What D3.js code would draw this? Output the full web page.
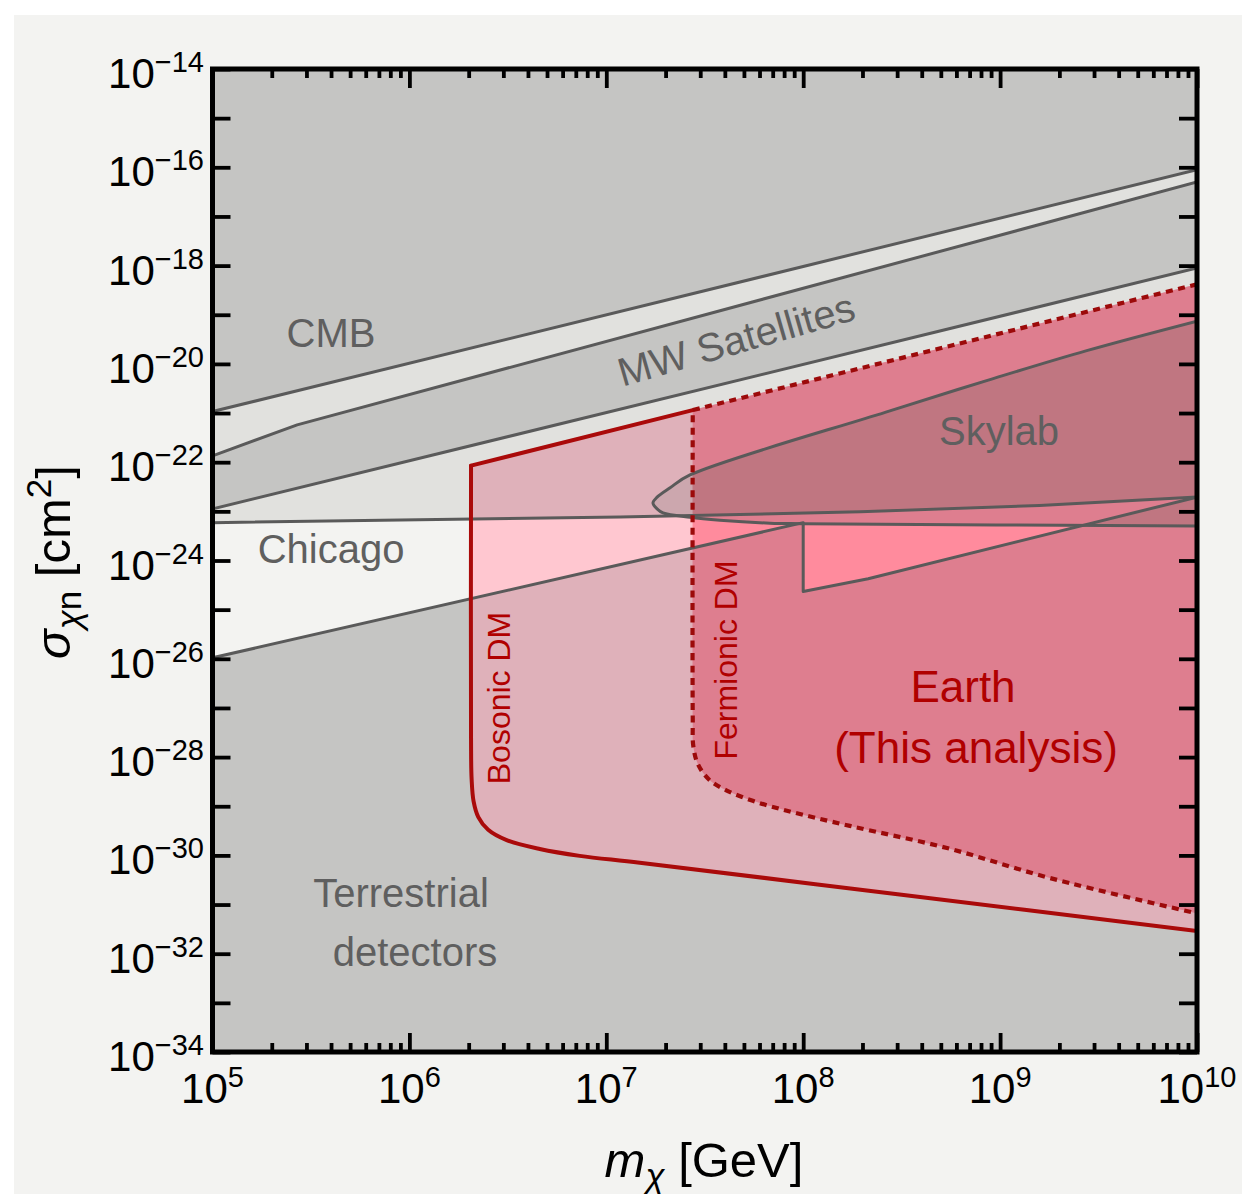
<!DOCTYPE html>
<html>
<head>
<meta charset="utf-8">
<script src="https://cdn.jsdelivr.net/npm/d3@7"></script>
<style>
  body { margin: 0; background: #ffffff; }
  svg { display: block; }
  text { font-family: "Liberation Sans", Arial, Helvetica, sans-serif; }
</style>
</head>
<body>
<svg id="chart" width="1242" height="1194"></svg>
<script>
// ---- axis ranges and ticks ----
const massDomain = [1e5, 1e10];          // m_chi [GeV]
const sigmaDomain = [1e-34, 1e-14];      // sigma_chi-n [cm^2]
const massTickExps = [5, 6, 7, 8, 9, 10];
const sigmaTickExps = d3.range(-34, -13, 1);
const sigmaLabelExps = [-14, -16, -18, -20, -22, -24, -26, -28, -30, -32, -34];

// ---- constraint boundaries, as [log10(m/GeV), log10(sigma/cm^2)] ----
const cmbEdge = [[5, -20.97], [10, -16.05]];
const mwUpperEdge = [[5, -21.87], [5.43, -21.24], [10, -16.30]];
const mwLowerEdge = [[5, -22.95], [10, -18.05]];
const chicagoUpper = [[5, -23.23], [7.07, -23.115], [8.29, -23.01], [9.2, -22.88], [10, -22.71]];
const chicagoLower = [[5, -25.98], [8.0, -23.23], [8.0, -24.63], [8.33, -24.37], [10, -22.71]];
const skylabEdge = [
  [10, -19.13], [9.44, -19.73], [8.94, -20.33], [8.42, -20.98], [7.425, -22.26],
  [7.324, -22.52], [7.258, -22.71], [7.237, -22.83], [7.258, -22.95], [7.288, -23.03],
  [7.425, -23.12], [7.577, -23.18], [7.831, -23.24], [8.0, -23.25], [10, -23.30]
];
// Earth overburden bounds (this analysis)
const earthTop = [[10, -18.38], [7.439, -20.94], [6.313, -22.07]];
const bosonicEdge = [
  [6.313, -22.07], [6.313, -27.6], [6.316, -28.45], [6.326, -28.9], [6.35, -29.22],
  [6.40, -29.48], [6.494, -29.69], [6.662, -29.87], [6.865, -30.01], [7.17, -30.15],
  [8.5, -30.80], [10, -31.54]
];
const fermionicEdge = [
  [7.439, -20.94], [7.439, -27.2], [7.442, -27.78], [7.466, -28.15], [7.525, -28.47],
  [7.612, -28.68], [7.744, -28.89], [7.917, -29.09], [8.237, -29.40], [8.73, -29.85],
  [9.253, -30.46], [10, -31.18]
];

// ---- layout ----
const plot = { left: 212.5, right: 1197, top: 69, bottom: 1052 };
const svg = d3.select("#chart");

const x = d3.scaleLog().domain(massDomain).range([plot.left, plot.right]);
const y = d3.scaleLog().domain(sigmaDomain).range([plot.bottom, plot.top]);
const P = d => [x(Math.pow(10, d[0])), y(Math.pow(10, d[1]))];

const straight = d3.line().x(d => P(d)[0]).y(d => P(d)[1]);
const smooth = d3.line().x(d => P(d)[0]).y(d => P(d)[1]).curve(d3.curveCatmullRom.alpha(0.5));

// paper background
svg.append("rect").attr("x", 14).attr("y", 15).attr("width", 1228).attr("height", 1179).attr("fill", "#f3f3f1");

const defs = svg.append("defs");
defs.append("clipPath").attr("id", "plotClip")
  .append("rect").attr("x", plot.left).attr("y", plot.top)
  .attr("width", plot.right - plot.left).attr("height", plot.bottom - plot.top);

// closed outlines
const bosonicD = smooth(bosonicEdge) + "L" + earthTop.map(d => P(d).join(",")).join("L") + "Z";
const fermionicD = smooth(fermionicEdge) + "L" + earthTop.slice(0, 2).map(d => P(d).join(",")).join("L") + "Z";
const chicagoD = straight(chicagoUpper.concat(chicagoLower.slice().reverse())) + "Z";
const skylabD = smooth(skylabEdge) + "Z";

defs.append("clipPath").attr("id", "bosClip").append("path").attr("d", bosonicD);
defs.append("clipPath").attr("id", "fermClip").append("path").attr("d", fermionicD);
defs.append("clipPath").attr("id", "skyClip").append("path").attr("d", skylabD);

const g = svg.append("g").attr("clip-path", "url(#plotClip)");

// excluded background
g.append("rect").attr("x", plot.left).attr("y", plot.top)
  .attr("width", plot.right - plot.left).attr("height", plot.bottom - plot.top)
  .attr("fill", "#c5c5c3");

// open windows between the bounds
g.append("path").attr("d", straight(cmbEdge.concat(mwUpperEdge.slice().reverse())) + "Z").attr("fill", "#e1e1de");
g.append("path").attr("d", straight(mwLowerEdge.concat(chicagoUpper.slice().reverse())) + "Z").attr("fill", "#e1e1de");
g.append("path").attr("d", chicagoD).attr("fill", "#f3f3f1");

// Earth regions
g.append("path").attr("d", bosonicD).attr("fill", "#dfb1ba");
g.append("path").attr("d", fermionicD).attr("fill", "#de7e8f");

// Chicago overlapping the Earth regions
g.append("path").attr("d", chicagoD).attr("fill", "#ffc7d0").attr("clip-path", "url(#bosClip)");
g.append("path").attr("d", chicagoD).attr("fill", "#ff8b9d").attr("clip-path", "url(#fermClip)");

// Skylab overlapping the Earth regions
g.append("path").attr("d", skylabD).attr("fill", "#cca7ae").attr("clip-path", "url(#bosClip)");
g.append("path").attr("d", skylabD).attr("fill", "#c07681").attr("clip-path", "url(#fermClip)");

// Skylab and Chicago together
const both = g.append("g").attr("clip-path", "url(#skyClip)");
both.append("path").attr("d", chicagoD).attr("fill", "#dfb1ba").attr("clip-path", "url(#bosClip)");
both.append("path").attr("d", chicagoD).attr("fill", "#de7e8f").attr("clip-path", "url(#fermClip)");

// gray boundary lines
const grayLine = "#5a5a5a";
[cmbEdge, mwUpperEdge, mwLowerEdge, chicagoUpper, chicagoLower].forEach(pts => {
  g.append("path").attr("d", straight(pts)).attr("fill", "none")
    .attr("stroke", grayLine).attr("stroke-width", 3).attr("stroke-linejoin", "round");
});
g.append("path").attr("d", smooth(skylabEdge)).attr("fill", "none")
  .attr("stroke", grayLine).attr("stroke-width", 3);

// Earth bounds: bosonic solid, fermionic dashed
g.append("path").attr("d", straight(earthTop.slice(1))).attr("fill", "none")
  .attr("stroke", "#aa0a0a").attr("stroke-width", 4).attr("stroke-linecap", "round");
g.append("path").attr("d", smooth(bosonicEdge)).attr("fill", "none")
  .attr("stroke", "#aa0a0a").attr("stroke-width", 4).attr("stroke-linecap", "round");
g.append("path").attr("d", straight(earthTop.slice(0, 2)) + smooth(fermionicEdge).replace(/^M/, "L"))
  .attr("fill", "none").attr("stroke", "#9c0a0a").attr("stroke-width", 4.2)
  .attr("stroke-dasharray", "7,5.5");

// region labels
const labels = g.append("g");
const grayText = "#5f5f5f", redText = "#b00000";
function label(txt, px, py, size, color, rot) {
  const t = labels.append("text").text(txt).attr("text-anchor", "middle")
    .attr("font-size", size).attr("fill", color);
  t.attr("transform", `translate(${px},${py})` + (rot ? ` rotate(${rot})` : ""));
  return t;
}
label("CMB", 331, 347, 40, grayText);
label("MW Satellites", 740, 353, 40, grayText, -16);
label("Chicago", 331, 563, 40, grayText);
label("Skylab", 999, 445, 40, grayText);
label("Terrestrial", 401, 907, 40, grayText);
label("detectors", 415, 966, 40, grayText);
label("Bosonic DM", 510, 698, 32, redText, -90);
label("Fermionic DM", 737, 660, 32, redText, -90);
label("Earth", 963, 702, 44, redText);
label("(This analysis)", 976, 763, 44, redText);

// ---- axes: ticks drawn inward on all four sides ----
const minorMass = [];
massTickExps.slice(0, -1).forEach(e => { for (let k = 2; k <= 9; k++) minorMass.push(k * Math.pow(10, e)); });
const majorMass = massTickExps.map(e => Math.pow(10, e));
const majorSigma = sigmaTickExps.map(e => Math.pow(10, e));

function styleAxis(sel) {
  sel.select(".domain").remove();
  sel.selectAll(".tick line").attr("stroke", "#000").attr("stroke-width", 3.8);
  sel.selectAll(".tick text").remove();
}
svg.append("g").attr("transform", `translate(0,${plot.bottom})`)
  .call(d3.axisBottom(x).tickValues(majorMass).tickSize(-19).tickFormat("")).call(styleAxis);
svg.append("g").attr("transform", `translate(0,${plot.bottom})`)
  .call(d3.axisBottom(x).tickValues(minorMass).tickSize(-9).tickFormat("")).call(styleAxis);
svg.append("g").attr("transform", `translate(0,${plot.top})`)
  .call(d3.axisTop(x).tickValues(majorMass).tickSize(-19).tickFormat("")).call(styleAxis);
svg.append("g").attr("transform", `translate(0,${plot.top})`)
  .call(d3.axisTop(x).tickValues(minorMass).tickSize(-9).tickFormat("")).call(styleAxis);
svg.append("g").attr("transform", `translate(${plot.left},0)`)
  .call(d3.axisLeft(y).tickValues(majorSigma).tickSize(-18).tickFormat("")).call(styleAxis);
svg.append("g").attr("transform", `translate(${plot.right},0)`)
  .call(d3.axisRight(y).tickValues(majorSigma).tickSize(-18).tickFormat("")).call(styleAxis);

// frame
svg.append("rect").attr("x", plot.left).attr("y", plot.top)
  .attr("width", plot.right - plot.left).attr("height", plot.bottom - plot.top)
  .attr("fill", "none").attr("stroke", "#000").attr("stroke-width", 5);

// tick labels with superscript exponents
function powerLabel(sel, exp) {
  sel.append("tspan").text("10");
  sel.append("tspan").text(exp < 0 ? "\u2212" + (-exp) : String(exp))
    .attr("font-size", 29).attr("dy", -16);
}
sigmaLabelExps.forEach(e => {
  const t = svg.append("text").attr("x", 204).attr("y", y(Math.pow(10, e)) + 19)
    .attr("text-anchor", "end").attr("font-size", 42).attr("fill", "#000");
  powerLabel(t, e);
});
massTickExps.forEach(e => {
  const t = svg.append("text").attr("x", x(Math.pow(10, e))).attr("y", 1103)
    .attr("text-anchor", "middle").attr("font-size", 42).attr("fill", "#000");
  powerLabel(t, e);
});

// axis titles
const xt = svg.append("text").attr("x", 704).attr("y", 1177).attr("text-anchor", "middle")
  .attr("font-size", 49).attr("fill", "#000");
xt.append("tspan").text("m").attr("font-style", "italic");
xt.append("tspan").text("\u03c7").attr("font-style", "italic").attr("font-size", 35).attr("dy", 11);
xt.append("tspan").text(" [GeV]").attr("dy", -11);

const yt = svg.append("text").attr("transform", "translate(70,562) rotate(-90)")
  .attr("text-anchor", "middle").attr("font-size", 49).attr("fill", "#000");
yt.append("tspan").text("\u03c3").attr("font-style", "italic");
yt.append("tspan").text("\u03c7").attr("font-style", "italic").attr("font-size", 35).attr("dy", 11);
yt.append("tspan").text("n").attr("font-size", 35);
yt.append("tspan").text(" [cm").attr("dy", -11);
yt.append("tspan").text("2").attr("font-size", 35).attr("dy", -19);
yt.append("tspan").text("]").attr("dy", 19);
</script>
</body>
</html>
